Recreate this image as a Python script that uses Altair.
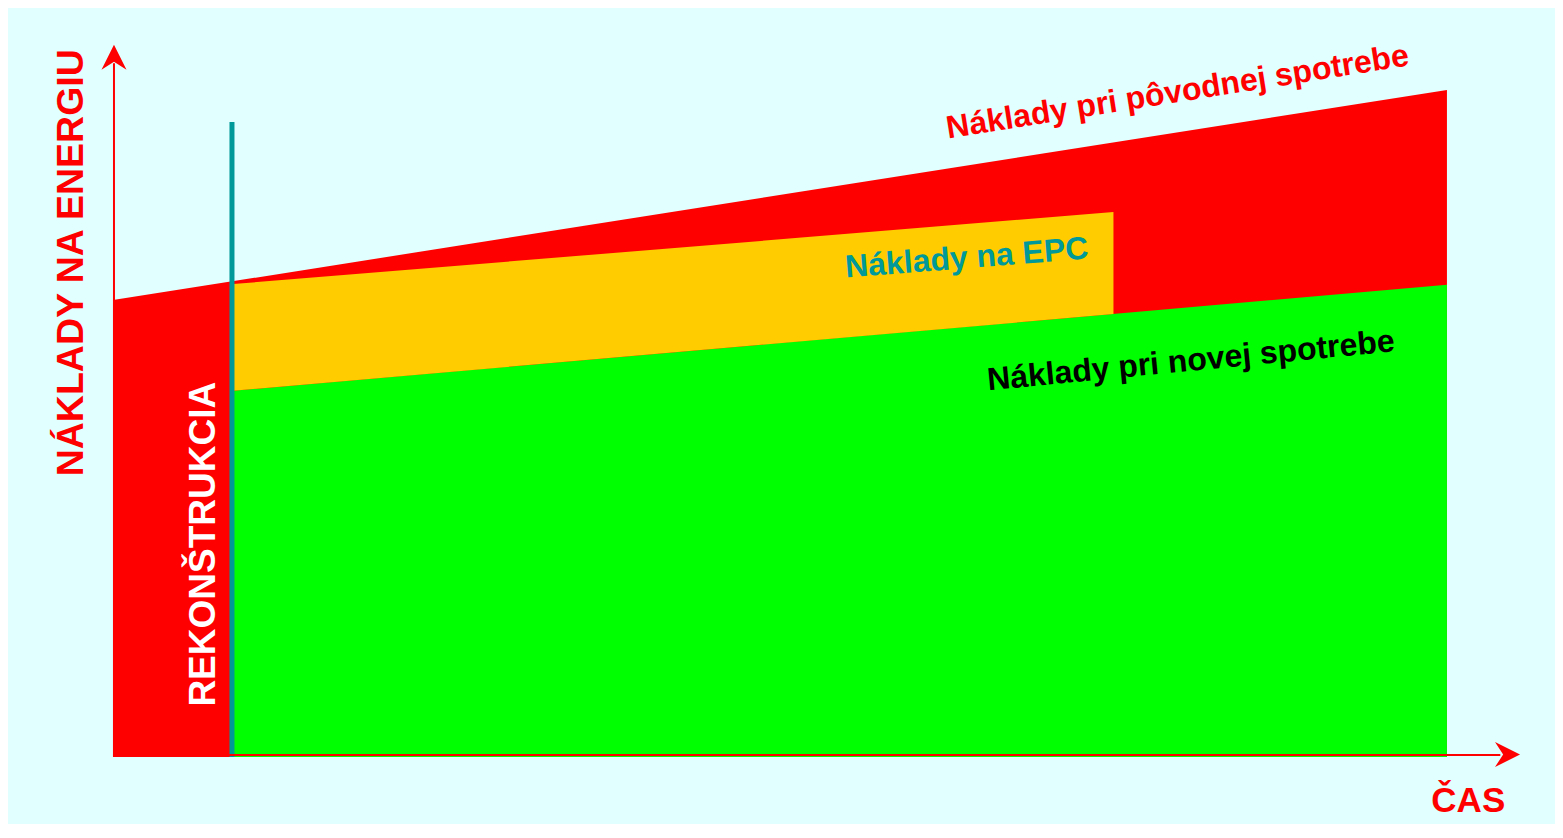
import altair as alt
import pandas as pd

# ---- data (time units on x, cost units on y) ----
time_orig = [0.0, 10.0]
cost_orig = [6.85, 10.0]

time_new = [0.9, 10.0]
cost_new = [5.49, 7.08]

time_epc = [0.9, 7.5]
cost_epc_top = [7.09, 8.17]
cost_epc_bottom = [5.49, 6.64]

reconstruction_time = [0.892]
reconstruction_top = [9.52]

axis_x_time = [0.0075]
axis_y_cost = [0.03]
axis_end = [10.4]
arrow_y_pos = [0.0075, 10.49]     # time, cost of y-axis arrow head
arrow_x_pos = [10.454, 0.037]     # time, cost of x-axis arrow head

labels = ["Náklady pri pôvodnej spotrebe", "Náklady na EPC", "Náklady pri novej spotrebe",
          "NÁKLADY NA ENERGIU", "REKONŠTRUKCIA", "ČAS"]
label_time = [7.98, 6.40, 8.08, -0.31, 0.68, 10.16]
label_cost = [9.97, 7.48, 5.94, 7.41, 3.19, -0.66]

# ---- styles ----
label_color = ["#FF0000", "#00999A", "#000000", "#FF0000", "#FFFFFF", "#FF0000"]
label_angle = [351, 355.5, 354.5, 270, 270, 0]
label_size = [32, 32, 32, 37.5, 37, 35]

W, H = 1547, 816
xs = alt.Scale(domain=[-0.787, 10.81], nice=False, zero=False)
ys = alt.Scale(domain=[-1.0045, 11.229], nice=False, zero=False)

def X(f="t"):
    return alt.X(f"{f}:Q", scale=xs, axis=None)

def Y(f="c"):
    return alt.Y(f"{f}:Q", scale=ys, axis=None)

red = alt.Chart(pd.DataFrame({"t": time_orig, "c": cost_orig, "b": [0, 0]})).mark_area(
    color="#FF0000", opacity=1).encode(x=X(), y=Y(), y2="b:Q")

green = alt.Chart(pd.DataFrame({"t": time_new, "c": cost_new, "b": [0, 0]})).mark_area(
    color="#00FF00", opacity=1).encode(x=X(), y=Y(), y2="b:Q")

orange = alt.Chart(pd.DataFrame({"t": time_epc, "c": cost_epc_top, "b": cost_epc_bottom})).mark_area(
    color="#FFCC00", opacity=1).encode(x=X(), y=Y(), y2="b:Q")

teal = alt.Chart(pd.DataFrame({"t": reconstruction_time, "c": reconstruction_top, "b": [0]})).mark_rule(
    color="#00999A", strokeWidth=5).encode(x=X(), y=Y(), y2="b:Q")

yaxis = alt.Chart(pd.DataFrame({"t": axis_x_time, "c": axis_end, "b": [0]})).mark_rule(
    color="#FF0000", strokeWidth=2).encode(x=X(), y=Y(), y2="b:Q")

xaxis = alt.Chart(pd.DataFrame({"t": [0.0], "t2": axis_end, "c": axis_y_cost})).mark_rule(
    color="#FF0000", strokeWidth=2).encode(x=X(), x2="t2:Q", y=Y())

arrow_up = alt.Chart(pd.DataFrame({"t": [arrow_y_pos[0]], "c": [arrow_y_pos[1]]})).mark_point(
    shape="M0,-1L1,1L0,0.35L-1,1Z", filled=True, size=625, color="#FF0000", opacity=1,
    strokeWidth=0).encode(x=X(), y=Y())

arrow_right = alt.Chart(pd.DataFrame({"t": [arrow_x_pos[0]], "c": [arrow_x_pos[1]]})).mark_point(
    shape="M1,0L-1,-1L-0.35,0L-1,1Z", filled=True, size=625, color="#FF0000", opacity=1,
    strokeWidth=0).encode(x=X(), y=Y())

texts = []
for lab, t, c, col, ang, sz in zip(labels, label_time, label_cost, label_color, label_angle, label_size):
    texts.append(
        alt.Chart(pd.DataFrame({"t": [t], "c": [c], "label": [lab]})).mark_text(
            font="Liberation Sans", fontWeight="bold", fontSize=sz, color=col, angle=ang,
            align="center", baseline="middle").encode(x=X(), y=Y(), text="label:N")
    )

chart = alt.layer(red, green, orange, teal, yaxis, xaxis, arrow_up, arrow_right, *texts).properties(
    width=W, height=H, autosize=alt.AutoSizeParams(type="none"), padding=0,
    background="#E1FFFF"
).configure_view(strokeWidth=0, fill="#E1FFFF")

chart.save("out.html", embed_options={"renderer": "svg", "actions": False})
